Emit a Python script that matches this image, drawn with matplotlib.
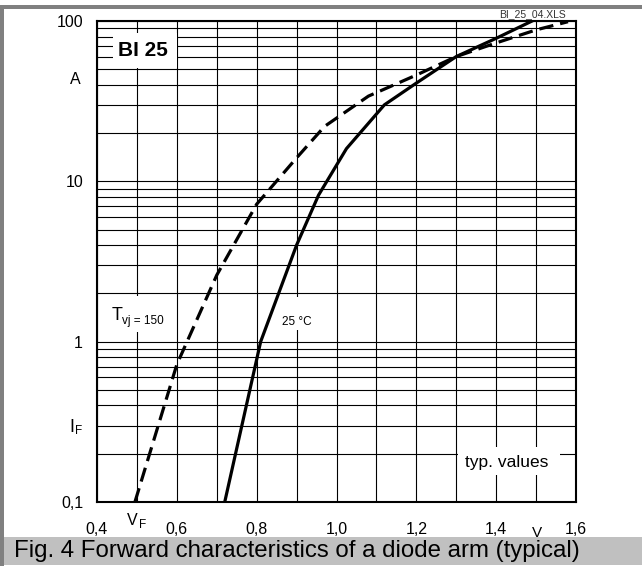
import matplotlib
matplotlib.use("Agg")
import matplotlib.pyplot as plt
from matplotlib.patches import Rectangle
from matplotlib.ticker import FixedLocator, MultipleLocator, NullFormatter

plt.rcParams['font.family'] = ['Liberation Sans', 'DejaVu Sans']

# forward characteristic, Tvj = 25 C (solid)
vf_25 = [0.72, 0.81, 0.90, 0.955, 1.025, 1.12, 1.20, 1.30, 1.40, 1.49]
if_25 = [0.1, 1.0, 4.0, 8.2, 16.0, 30.0, 41.0, 60.0, 78.0, 100.0]

# forward characteristic, Tvj = 150 C (dashed)
vf_150 = [0.495, 0.60, 0.70, 0.80, 0.90, 0.97, 1.08, 1.20, 1.30, 1.40, 1.50, 1.58]
if_150 = [0.1, 0.72, 2.6, 7.2, 14.0, 22.0, 34.0, 46.0, 60.0, 73.0, 88.0, 99.0]

x_ticks = [0.4, 0.6, 0.8, 1.0, 1.2, 1.4, 1.6]
x_labels = ['0,4', '0,6', '0,8', '1,0', '1,2', '1,4', '1,6']
y_ticks = [0.1, 1, 10, 100]
y_labels = ['0,1', '1', '10', '100']

W, H = 642, 566
fig = plt.figure(figsize=(W / 100, H / 100), dpi=100)


def px(x, y):
    # pixel position (from top left) -> figure fraction
    return x / W, 1 - y / H


def box(x0, y0, x1, y1, **kw):
    return Rectangle(px(x0, y1), (x1 - x0) / W, (y1 - y0) / H,
                     transform=fig.transFigure, **kw)


# grey frame and caption bar
fig.patches.append(box(0, 5, 4, 566, facecolor='#808080', edgecolor='none'))
fig.patches.append(box(0, 5, 642, 8.5, facecolor='#808080', edgecolor='none'))
fig.patches.append(box(4, 537, 642, 565, facecolor='#c0c0c0', edgecolor='none'))

ax = fig.add_axes([97 / W, (H - 502) / H, 479 / W, 481 / H])
ax.set_yscale('log')
ax.set_xlim(0.4, 1.6)
ax.set_ylim(0.1, 100)

ax.plot(vf_25, if_25, color='black', lw=2.3, zorder=3)
ax.plot(vf_150, if_150, color='black', lw=2.3, dashes=(4.5, 2.2),
        dash_capstyle='butt', zorder=3)

ax.xaxis.set_major_locator(FixedLocator(x_ticks))
ax.xaxis.set_minor_locator(MultipleLocator(0.1))
ax.set_xticklabels(x_labels)
ax.yaxis.set_major_locator(FixedLocator(y_ticks))
ax.set_yticklabels(y_labels)
ax.yaxis.set_minor_formatter(NullFormatter())
ax.set_axisbelow(True)
ax.grid(True, which='both', color='black', lw=0.8)
ax.tick_params(which='both', length=0)
ax.tick_params(axis='x', pad=14.5, labelsize=11.5)
ax.tick_params(axis='y', pad=10, labelsize=11.5)
for s in ax.spines.values():
    s.set_linewidth(1.5)

# white patches behind the labels inside the grid
for b in [(113, 33, 177, 68), (105, 296, 167, 332),
          (278, 297, 318, 330), (458, 447, 560, 475)]:
    ax.add_patch(box(*b, facecolor='white', edgecolor='none', zorder=1))

fig.text(*px(143, 50), 'BI 25', fontsize=15, fontweight='bold',
         ha='center', va='center')
fig.text(*px(112, 320), 'T', fontsize=13, ha='left', va='baseline')
fig.text(*px(122, 324), 'vj = 150', fontsize=8.5, ha='left', va='baseline')
fig.text(*px(282, 325), '25 °C', fontsize=8.5, ha='left', va='baseline')
fig.text(*px(465, 467), 'typ. values', fontsize=12.5, ha='left', va='baseline')
fig.text(*px(566, 17), 'BI_25_04.XLS', fontsize=7.5, color='#333333',
         ha='right', va='baseline')

fig.text(*px(75, 79), 'A', fontsize=11.5, ha='center', va='center')
fig.text(*px(69, 432), 'I', fontsize=13, ha='left', va='baseline')
fig.text(*px(75, 434), 'F', fontsize=8.5, ha='left', va='baseline')
fig.text(*px(127, 525), 'V', fontsize=11.5, ha='left', va='baseline')
fig.text(*px(139, 528), 'F', fontsize=8.5, ha='left', va='baseline')
fig.text(*px(537, 537), 'V', fontsize=11, ha='center', va='baseline')

fig.text(*px(14, 551), 'Fig. 4 Forward characteristics of a diode arm (typical)',
         fontsize=17.3, ha='left', va='center')

fig.savefig('out.png', dpi=100)
